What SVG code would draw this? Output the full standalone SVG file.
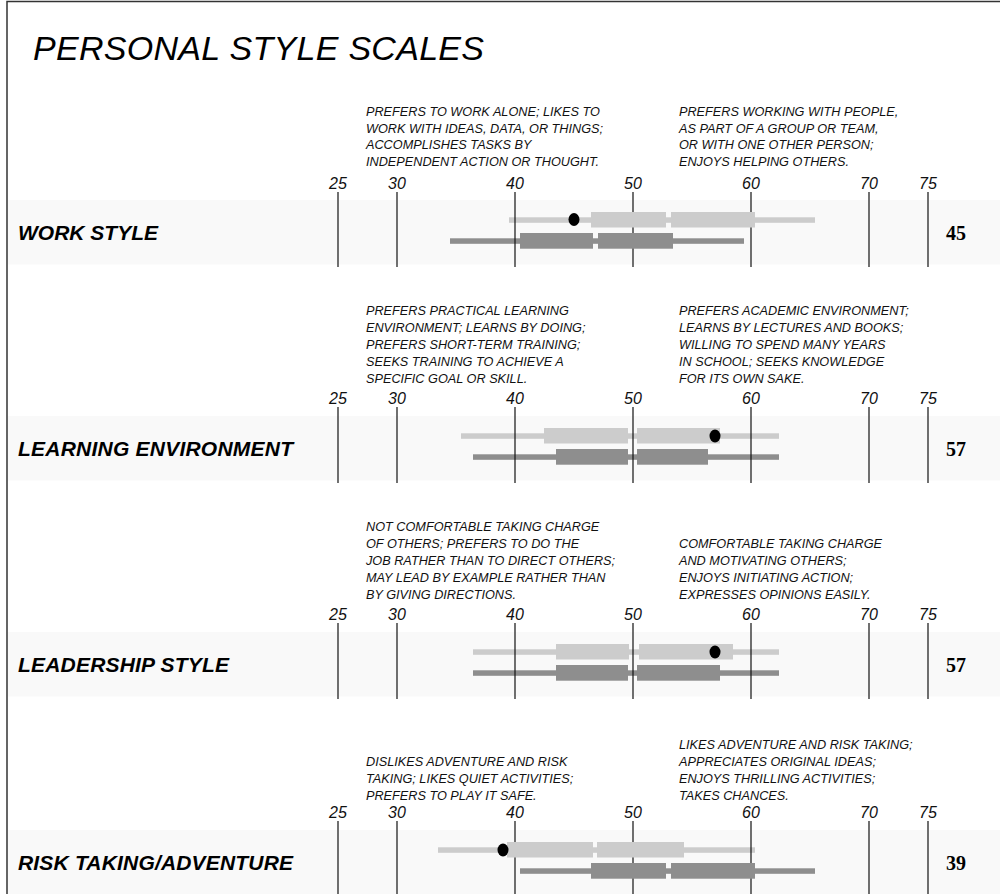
<svg xmlns="http://www.w3.org/2000/svg" width="1000" height="894" viewBox="0 0 1000 894">
<style>
.title{font-family:"Liberation Sans",Arial,sans-serif;font-style:italic;font-size:34px;fill:#000}
.desc{font-family:"Liberation Sans",Arial,sans-serif;font-style:italic;font-size:12.7px;fill:#111}
.num{font-family:"Liberation Sans",Arial,sans-serif;font-style:italic;font-size:16px;fill:#111;text-anchor:middle}
.lab{font-family:"Liberation Sans",Arial,sans-serif;font-style:italic;font-weight:bold;font-size:21px;fill:#000}
.score{font-family:"Liberation Serif","Times New Roman",serif;font-weight:bold;font-size:20px;fill:#000;text-anchor:middle}
.band{fill:#f9f9f9}
.tick{stroke:#111;stroke-width:1.2}
.lt{fill:#cccccc}
.dk{fill:#8e8e8e}
.dot{fill:#000}
</style>
<rect width="1000" height="894" fill="#fff"/>
<path d="M7,894 V1.5 H1000" fill="none" stroke="#333" stroke-width="1.5"/>
<text class="title" x="33" y="60" textLength="451">PERSONAL STYLE SCALES</text>

<!-- WORK STYLE -->
<g id="work-style">
<rect class="band" x="8" y="200" width="992" height="64.5"/>
<text class="desc" x="366" y="116">PREFERS TO WORK ALONE; LIKES TO</text>
<text class="desc" x="366" y="132.5">WORK WITH IDEAS, DATA, OR THINGS;</text>
<text class="desc" x="366" y="149">ACCOMPLISHES TASKS BY</text>
<text class="desc" x="366" y="165.5">INDEPENDENT ACTION OR THOUGHT.</text>
<text class="desc" x="679" y="116">PREFERS WORKING WITH PEOPLE,</text>
<text class="desc" x="679" y="132.5">AS PART OF A GROUP OR TEAM,</text>
<text class="desc" x="679" y="149">OR WITH ONE OTHER PERSON;</text>
<text class="desc" x="679" y="165.5">ENJOYS HELPING OTHERS.</text>
<text class="num" x="338" y="189">25</text><text class="num" x="397" y="189">30</text><text class="num" x="515" y="189">40</text><text class="num" x="633" y="189">50</text><text class="num" x="751" y="189">60</text><text class="num" x="869" y="189">70</text><text class="num" x="928" y="189">75</text>
<rect class="lt" x="509" y="217.3" width="306" height="5.5"/>
<rect class="dk" x="450" y="238.3" width="294" height="5.5"/>
<g class="tick"><line x1="338" y1="192" x2="338" y2="267"/><line x1="397" y1="192" x2="397" y2="267"/><line x1="515" y1="192" x2="515" y2="267"/><line x1="633" y1="192" x2="633" y2="267"/><line x1="751" y1="192" x2="751" y2="267"/><line x1="869" y1="192" x2="869" y2="267"/><line x1="928" y1="192" x2="928" y2="267"/></g>
<rect class="lt" x="591" y="212" width="75" height="15.5"/>
<rect class="lt" x="671" y="212" width="84" height="15.5"/>
<rect class="dk" x="520" y="233" width="73" height="15.7"/>
<rect class="dk" x="598" y="233" width="75" height="15.7"/>
<ellipse class="dot" cx="574" cy="219.5" rx="5.5" ry="6.5"/>
<text class="lab" x="18" y="240" textLength="140">WORK STYLE</text>
<text class="score" x="956" y="240">45</text>
</g>

<!-- LEARNING ENVIRONMENT -->
<g id="learning-environment">
<rect class="band" x="8" y="416" width="992" height="64.5"/>
<text class="desc" x="366" y="315">PREFERS PRACTICAL LEARNING</text>
<text class="desc" x="366" y="332">ENVIRONMENT; LEARNS BY DOING;</text>
<text class="desc" x="366" y="349">PREFERS SHORT-TERM TRAINING;</text>
<text class="desc" x="366" y="366">SEEKS TRAINING TO ACHIEVE A</text>
<text class="desc" x="366" y="383">SPECIFIC GOAL OR SKILL.</text>
<text class="desc" x="679" y="315">PREFERS ACADEMIC ENVIRONMENT;</text>
<text class="desc" x="679" y="332">LEARNS BY LECTURES AND BOOKS;</text>
<text class="desc" x="679" y="349">WILLING TO SPEND MANY YEARS</text>
<text class="desc" x="679" y="366">IN SCHOOL; SEEKS KNOWLEDGE</text>
<text class="desc" x="679" y="383">FOR ITS OWN SAKE.</text>
<text class="num" x="338" y="404">25</text><text class="num" x="397" y="404">30</text><text class="num" x="515" y="404">40</text><text class="num" x="633" y="404">50</text><text class="num" x="751" y="404">60</text><text class="num" x="869" y="404">70</text><text class="num" x="928" y="404">75</text>
<rect class="lt" x="461" y="433.3" width="318" height="5.5"/>
<rect class="dk" x="473" y="454.3" width="306" height="5.5"/>
<g class="tick"><line x1="338" y1="407" x2="338" y2="483"/><line x1="397" y1="407" x2="397" y2="483"/><line x1="515" y1="407" x2="515" y2="483"/><line x1="633" y1="407" x2="633" y2="483"/><line x1="751" y1="407" x2="751" y2="483"/><line x1="869" y1="407" x2="869" y2="483"/><line x1="928" y1="407" x2="928" y2="483"/></g>
<rect class="lt" x="544" y="428" width="84" height="15.5"/>
<rect class="lt" x="637" y="428" width="83" height="15.5"/>
<rect class="dk" x="556" y="449" width="72" height="15.7"/>
<rect class="dk" x="637" y="449" width="71" height="15.7"/>
<ellipse class="dot" cx="715" cy="436" rx="5.5" ry="6.5"/>
<text class="lab" x="18" y="456" textLength="275">LEARNING ENVIRONMENT</text>
<text class="score" x="956" y="456">57</text>
</g>

<!-- LEADERSHIP STYLE -->
<g id="leadership-style">
<rect class="band" x="8" y="632" width="992" height="64.5"/>
<text class="desc" x="366" y="531">NOT COMFORTABLE TAKING CHARGE</text>
<text class="desc" x="366" y="548">OF OTHERS; PREFERS TO DO THE</text>
<text class="desc" x="366" y="565">JOB RATHER THAN TO DIRECT OTHERS;</text>
<text class="desc" x="366" y="582">MAY LEAD BY EXAMPLE RATHER THAN</text>
<text class="desc" x="366" y="599">BY GIVING DIRECTIONS.</text>
<text class="desc" x="679" y="548">COMFORTABLE TAKING CHARGE</text>
<text class="desc" x="679" y="565">AND MOTIVATING OTHERS;</text>
<text class="desc" x="679" y="582">ENJOYS INITIATING ACTION;</text>
<text class="desc" x="679" y="599">EXPRESSES OPINIONS EASILY.</text>
<text class="num" x="338" y="620">25</text><text class="num" x="397" y="620">30</text><text class="num" x="515" y="620">40</text><text class="num" x="633" y="620">50</text><text class="num" x="751" y="620">60</text><text class="num" x="869" y="620">70</text><text class="num" x="928" y="620">75</text>
<rect class="lt" x="473" y="649.3" width="306" height="5.5"/>
<rect class="dk" x="473" y="670.3" width="306" height="5.5"/>
<g class="tick"><line x1="338" y1="623" x2="338" y2="699"/><line x1="397" y1="623" x2="397" y2="699"/><line x1="515" y1="623" x2="515" y2="699"/><line x1="633" y1="623" x2="633" y2="699"/><line x1="751" y1="623" x2="751" y2="699"/><line x1="869" y1="623" x2="869" y2="699"/><line x1="928" y1="623" x2="928" y2="699"/></g>
<rect class="lt" x="556" y="644" width="73" height="15.5"/>
<rect class="lt" x="639" y="644" width="94" height="15.5"/>
<rect class="dk" x="556" y="665" width="72" height="15.7"/>
<rect class="dk" x="637" y="665" width="83" height="15.7"/>
<ellipse class="dot" cx="715" cy="652" rx="5.5" ry="6.5"/>
<text class="lab" x="18" y="672" textLength="211">LEADERSHIP STYLE</text>
<text class="score" x="956" y="672">57</text>
</g>

<!-- RISK TAKING/ADVENTURE -->
<g id="risk-taking">
<rect class="band" x="8" y="830" width="992" height="64"/>
<text class="desc" x="366" y="766">DISLIKES ADVENTURE AND RISK</text>
<text class="desc" x="366" y="783">TAKING; LIKES QUIET ACTIVITIES;</text>
<text class="desc" x="366" y="800">PREFERS TO PLAY IT SAFE.</text>
<text class="desc" x="679" y="749">LIKES ADVENTURE AND RISK TAKING;</text>
<text class="desc" x="679" y="766">APPRECIATES ORIGINAL IDEAS;</text>
<text class="desc" x="679" y="783">ENJOYS THRILLING ACTIVITIES;</text>
<text class="desc" x="679" y="800">TAKES CHANCES.</text>
<text class="num" x="338" y="818">25</text><text class="num" x="397" y="818">30</text><text class="num" x="515" y="818">40</text><text class="num" x="633" y="818">50</text><text class="num" x="751" y="818">60</text><text class="num" x="869" y="818">70</text><text class="num" x="928" y="818">75</text>
<rect class="lt" x="438" y="847.3" width="317" height="5.5"/>
<rect class="dk" x="520" y="868.3" width="295" height="5.5"/>
<g class="tick"><line x1="338" y1="821" x2="338" y2="894"/><line x1="397" y1="821" x2="397" y2="894"/><line x1="515" y1="821" x2="515" y2="894"/><line x1="633" y1="821" x2="633" y2="894"/><line x1="751" y1="821" x2="751" y2="894"/><line x1="869" y1="821" x2="869" y2="894"/><line x1="928" y1="821" x2="928" y2="894"/></g>
<rect class="lt" x="507" y="842" width="86" height="15.5"/>
<rect class="lt" x="597" y="842" width="87" height="15.5"/>
<rect class="dk" x="591" y="863" width="75" height="15.7"/>
<rect class="dk" x="671" y="863" width="84" height="15.7"/>
<ellipse class="dot" cx="503" cy="850" rx="5.5" ry="6.5"/>
<text class="lab" x="18" y="870" textLength="275">RISK TAKING/ADVENTURE</text>
<text class="score" x="956" y="870">39</text>
</g>
</svg>
